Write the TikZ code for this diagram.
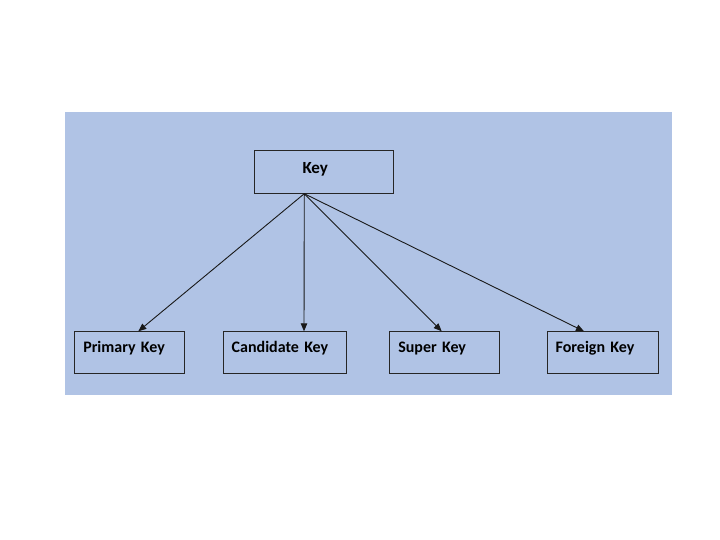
\documentclass[tikz,border=0pt]{standalone}
\usepackage{fontspec}
\setmainfont{Carlito}
\usepackage{xcolor}
\usetikzlibrary{arrows.meta, calc}
\definecolor{bgblue}{RGB}{176,195,229}

\begin{document}
\begin{tikzpicture}[
    x=1pt, y=-1pt,
    keybox/.style={rectangle, draw=black!85, line width=1pt, anchor=north west,
                   inner ysep=0pt, inner xsep=8.5pt, align=left,
                   text height=21pt, text depth=21pt,
                   font=\fontsize{16}{18}\selectfont\bfseries},
    arrow/.style={-{Triangle[length=8pt, width=6.5pt]}, line width=0.9pt, draw=black!90}
]
    \useasboundingbox (0,0) rectangle (720,540);
    \fill[bgblue] (65,112) rectangle (672,395);
    \node[keybox, inner xsep=0pt, text width=138.4pt, text height=23.6pt, text depth=19.4pt,
          font=\fontsize{17}{19}\selectfont\bfseries] (key) at (254.3,149.7)
          {\hspace*{47.7pt}Key};
    \node[keybox, text width=93pt] (pk) at (74.3,331.3) {Primary Key};
    \node[keybox, text width=106.3pt] (ck) at (222.7,331.3) {Candidate Key};
    \node[keybox, text width=92.7pt] (sk) at (389.3,331.3) {Super Key};
    \node[keybox, text width=94pt] (fk) at (546.7,331.3) {Foreign Key};
    \coordinate (src) at ([xshift=50pt]key.south west);
    \draw[arrow] (src) -- ([xshift=64pt]pk.north west);
    \draw[arrow] (src) -- ([xshift=81.3pt]ck.north west);
    \draw[arrow] (src) -- ([xshift=52.4pt]sk.north west);
    \draw[arrow] (src) -- ([xshift=37.3pt]fk.north west);
\end{tikzpicture}
\end{document}
